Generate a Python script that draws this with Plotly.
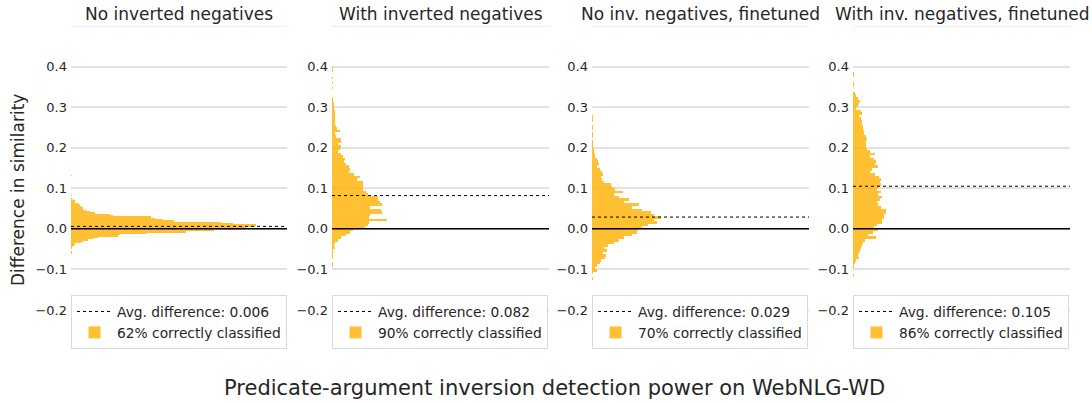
import plotly.graph_objects as go

# ---- data ----
TITLES = [
    "No inverted negatives",
    "With inverted negatives",
    "No inv. negatives, finetuned",
    "With inv. negatives, finetuned",
]
AVG_DIFF = [0.006, 0.082, 0.029, 0.105]
CORRECT_PCT = [62, 90, 70, 86]

# histogram bins: lower edge of first bin and bin width per panel
BIN_START = [-0.0619, -0.09375, -0.125, -0.11875]
BIN_WIDTH = [0.0033, 0.00625, 0.00625, 0.00625]

COUNTS_NO_INV = [
    2, 2, 0, 0, 3, 5, 9, 13, 31, 36, 51, 66, 81, 141, 146, 226, 346, 428,
    510, 526, 551, 556, 486, 451, 309, 276, 251, 241, 126, 116, 73, 57, 46,
    36, 36, 31, 26, 21, 13, 11, 6, 3, 0, 3,
    0, 0, 0, 0, 0, 0, 0, 0, 0, 0, 0, 0, 0, 0, 2,
]
COUNTS_WITH_INV = [
    2, 2, 0, 2, 2, 2, 3, 8, 6, 10, 18, 26, 43, 53, 63,
    98, 106, 110, 163, 110, 113, 150, 146, 113, 150, 143, 136, 136, 106, 103,
    93, 93, 93, 93, 76, 85, 66, 50, 53, 50, 43, 36, 38, 34, 26, 18, 23, 26,
    18, 26, 26, 12, 10, 23, 16, 12, 10, 10, 10, 10, 8, 8, 7, 7, 7, 4,
    2, 0, 0, 0, 2, 0, 2, 0, 2, 0, 0, 2, 2,
]
COUNTS_NO_INV_FT = [
    2, 0, 2, 16, 10, 16, 23, 28, 38, 43, 33, 46, 36, 48, 66, 80, 96, 118, 133, 136,
    148, 166, 193, 186, 206, 184, 176, 150, 118, 140, 96, 110, 80, 66, 92, 68,
    60, 58, 36, 30, 28, 34, 30, 24, 14, 20, 18, 14, 8, 10, 6, 6, 4, 2, 2,
    0, 2, 2, 0, 2, 2, 0, 2, 2, 2,
]
COUNTS_WITH_INV_FT = [
    2, 0, 0, 4, 4, 6, 8, 18, 16, 18, 20, 23, 28, 30, 36, 68, 46, 60, 76,
    63, 73, 86, 88, 92, 94, 98, 100, 83, 76, 73, 80, 86, 76, 83, 73, 78, 83,
    80, 83, 78, 66, 50, 56, 76, 66, 68, 63, 50, 66, 50, 43, 40, 38, 40, 43,
    40, 34, 32, 30, 30, 28, 26, 23, 18, 26, 23, 10, 16, 18, 20, 16, 10, 6,
    0, 0, 2, 2, 0, 0, 2, 2,
]
COUNTS = [COUNTS_NO_INV, COUNTS_WITH_INV, COUNTS_NO_INV_FT, COUNTS_WITH_INV_FT]

Y_TICKS = [-0.2, -0.1, 0.0, 0.1, 0.2, 0.3, 0.4]
Y_TICKTEXT = ["\u22120.2", "\u22120.1", "0.0", "0.1", "0.2", "0.3", "0.4"]

# ---- layout constants ----
W, H = 1092, 403
PANEL_X = [(71, 287), (332, 549), (592, 809), (853, 1070)]
TOP_PX, BOTTOM_PX = 26, 342.4
Y_RANGE = [-0.28, 0.5]
X_MAX = 648
ORANGE = "rgba(255,176,0,0.8)"
FONT = "DejaVu Sans"
TEXT = "#262626"

fig = go.Figure()
layout = {}
shapes, annotations = [], []

for i in range(4):
    n = "" if i == 0 else str(i + 1)
    xa, ya, leg = "x" + n, "y" + n, "legend" + n
    centers = [BIN_START[i] + BIN_WIDTH[i] * (j + 0.5) for j in range(len(COUNTS[i]))]

    fig.add_trace(go.Scatter(
        x=[0, X_MAX], y=[AVG_DIFF[i], AVG_DIFF[i]], mode="lines",
        line=dict(color="black", width=1, dash="dot"),
        name=f"Avg. difference: {AVG_DIFF[i]:.3f}",
        xaxis=xa, yaxis=ya, legend=leg, hoverinfo="skip",
    ))
    fig.add_trace(go.Bar(
        x=COUNTS[i], y=centers, orientation="h", width=BIN_WIDTH[i],
        marker=dict(color=ORANGE, line=dict(width=0)),
        name=f"{CORRECT_PCT[i]}% correctly classified",
        xaxis=xa, yaxis=ya, legend=leg,
    ))

    x0, x1 = PANEL_X[i]
    layout["xaxis" + n] = dict(
        domain=[x0 / W, x1 / W], range=[0, X_MAX], visible=False,
        anchor=ya, fixedrange=True,
    )
    layout["yaxis" + n] = dict(
        domain=[1 - BOTTOM_PX / H, 1 - TOP_PX / H], range=Y_RANGE, anchor=xa,
        tickvals=Y_TICKS, ticktext=Y_TICKTEXT, ticks="", ticklabelstandoff=3,
        showgrid=True, gridcolor="#e2e2e2", gridwidth=1.5,
        zeroline=False, showline=False,
        tickfont=dict(family=FONT, size=13, color=TEXT),
    )
    layout[leg] = dict(
        x=x0 / W, y=1 - 295 / H, xanchor="left", yanchor="top",
        bgcolor="white", bordercolor="#d9d9d9", borderwidth=1,
        font=dict(family=FONT, size=13.8, color=TEXT),
        traceorder="normal", itemwidth=35, tracegroupgap=0,
    )

    # zero line and top border line
    shapes.append(dict(type="line", xref=xa + " domain", yref=ya,
                       x0=0, x1=1, y0=0, y1=0,
                       line=dict(color="black", width=1.5)))
    shapes.append(dict(type="line", xref=xa + " domain", yref=ya,
                       x0=0, x1=1, y0=0.5, y1=0.5,
                       line=dict(color="#dcdcdc", width=1)))

    annotations.append(dict(
        text=TITLES[i], xref="paper", yref="paper",
        x=(x0 + x1) / 2 / W, y=1 - 14 / H, xanchor="center", yanchor="middle",
        showarrow=False, font=dict(family=FONT, size=17, color=TEXT),
    ))

annotations.append(dict(
    text="Difference in similarity", xref="paper", yref="paper",
    x=18 / W, y=1 - 190 / H, xanchor="center", yanchor="middle", textangle=-90,
    showarrow=False, font=dict(family=FONT, size=17, color=TEXT),
))
annotations.append(dict(
    text="Predicate-argument inversion detection power on WebNLG-WD",
    xref="paper", yref="paper", x=554 / W, y=1 - 388 / H,
    xanchor="center", yanchor="middle",
    showarrow=False, font=dict(family=FONT, size=21, color=TEXT),
))

fig.update_layout(
    width=W, height=H,
    margin=dict(l=0, r=0, t=0, b=0),
    paper_bgcolor="white", plot_bgcolor="white",
    bargap=0, barmode="overlay",
    showlegend=True,
    shapes=shapes, annotations=annotations,
    font=dict(family=FONT, color=TEXT),
    **layout,
)

# the page body has a default 8px margin; drop it so the figure fills the window
fig.write_html(
    "out.html",
    config={"displayModeBar": False},
    post_script="document.body.style.margin='0';",
)
